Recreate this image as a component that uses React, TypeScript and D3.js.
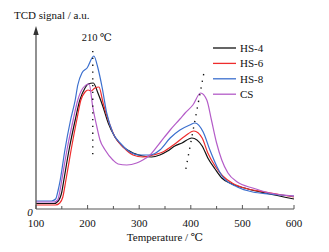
import React from "react";
import * as d3 from "d3";

const W = 329;
const H = 252;

const xTicks = [100, 200, 300, 400, 500, 600];
const xMinorTicks = [150, 250, 350, 450, 550];
const seriesNames = ["HS-4", "HS-6", "HS-8", "CS"];
const seriesColors = ["#111111", "#ee2c2c", "#3b6fce", "#b45cc8"];

const tempHS4 = [100, 135, 143, 150, 154, 164, 176, 185, 195, 201, 211, 220, 230, 240, 253, 269, 288, 307, 324, 340, 355, 369, 383, 402, 422, 433, 447, 460, 480, 511, 544, 600];
const valHS4 = [5.5, 5.5, 8, 17, 29, 59, 89, 109, 121, 125, 126, 116, 102, 86, 72, 62, 56, 53, 52, 54, 58, 63, 66, 71, 63, 51, 40, 31, 25, 20, 16, 10];

const tempHS6 = [100, 138, 146, 152, 158, 168, 179, 187, 195, 201, 207, 214, 222, 230, 240, 253, 269, 288, 307, 327, 346, 369, 389, 406, 422, 433, 447, 462, 480, 511, 544, 600];
const valHS6 = [4, 4, 6, 12, 29, 59, 89, 109, 117, 119, 118, 121, 122, 106, 89, 72, 62, 54, 52, 54, 57, 65, 73, 78, 71, 56, 43, 33, 26, 20, 17, 12];

const tempHS8 = [100, 130, 138, 143, 147, 156, 167, 176, 181, 189, 199, 212, 220, 228, 237, 249, 263, 282, 301, 321, 340, 360, 379, 398, 408, 424, 437, 451, 462, 490, 520, 553, 600];
const valHS8 = [8, 8, 10, 19, 29, 59, 89, 109, 124, 136, 141, 153, 141, 122, 96, 76, 66, 57, 54, 54, 59, 71, 79, 84, 86, 77, 59, 42, 32, 22, 17, 15, 13];

const tempCS = [100, 135, 142, 146, 150, 160, 172, 181, 191, 203, 210, 218, 224, 234, 249, 259, 276, 295, 307, 321, 340, 360, 379, 389, 404, 419, 431, 440, 450, 460, 472, 490, 520, 553, 600];
const valCS = [7, 7, 9, 17, 29, 59, 89, 109, 121, 125, 102, 82, 69, 59, 49, 45, 44, 46, 49, 54, 66, 79, 90, 96, 104, 116, 109, 89, 66, 49, 36, 27, 21, 16, 13];

const seriesTemps = [tempHS4, tempHS6, tempHS8, tempCS];
const seriesVals = [valHS4, valHS6, valHS8, valCS];

const peakLabel = "210 ℃";
const xTitle = "Temperature / ℃";
const yTitle = "TCD signal / a.u.";

const FONT = "Liberation Serif, Times New Roman, DejaVu Serif, serif";
const txt = { fontFamily: FONT };

export default function App() {
  const x = d3.scaleLinear().domain([100, 600]).range([36, 294]);
  const y = d3.scaleLinear().domain([0, 180]).range([209, 29]);
  const line = d3
    .line<[number, number]>()
    .x((d) => x(d[0]))
    .y((d) => y(d[1]))
    .curve(d3.curveMonotoneX);

  const axisColor = "#555";

  return (
    <svg
      width={W}
      height={H}
      style={{ position: "absolute", left: 0, top: 0, background: "#fff" }}
    >
      {/* curves */}
      {seriesNames.map((name, i) => {
        const pts = seriesTemps[i].map((t, j) => [t, seriesVals[i][j]] as [number, number]);
        return (
          <path
            key={name}
            d={line(pts) || ""}
            fill="none"
            stroke={seriesColors[i]}
            strokeWidth={1.2}
          />
        );
      })}

      {/* dotted guide lines */}
      <line
        x1={x(210)}
        x2={x(210)}
        y1={y(158)}
        y2={y(53)}
        stroke="#111"
        strokeWidth={1.4}
        strokeDasharray="1.3 5.5"
      />
      <line
        x1={x(425)}
        x2={x(390)}
        y1={y(135)}
        y2={y(39)}
        stroke="#111"
        strokeWidth={1.4}
        strokeDasharray="1.3 5.5"
      />
      <text x={x(210) + 4} y={41} fontSize={10.5} textAnchor="middle" fill="#111" style={txt}>
        {peakLabel}
      </text>

      {/* x axis */}
      <line x1={x(100)} x2={x(600)} y1={209} y2={209} stroke={axisColor} strokeWidth={1.2} />
      {xTicks.map((t) => (
        <g key={t}>
          <line x1={x(t)} x2={x(t)} y1={209} y2={205} stroke={axisColor} strokeWidth={1} />
          <text x={x(t)} y={227} fontSize={11} textAnchor="middle" fill="#111" style={txt}>
            {t}
          </text>
        </g>
      ))}
      {xMinorTicks.map((t) => (
        <line key={t} x1={x(t)} x2={x(t)} y1={209} y2={206} stroke={axisColor} strokeWidth={1} />
      ))}
      <text x={165} y={241} fontSize={11} textAnchor="middle" fill="#111" style={txt}>
        {xTitle}
      </text>

      {/* y axis */}
      <line x1={36} x2={36} y1={209} y2={33} stroke={axisColor} strokeWidth={1.3} />
      <path d="M36,26 L33.3,35 L38.7,35 Z" fill="#333" />
      <text x={14} y={19} fontSize={11} fill="#111" style={txt}>
        {yTitle}
      </text>
      <text x={30} y={216} fontSize={11} fontStyle="italic" textAnchor="middle" fill="#111" style={txt}>
        0
      </text>

      {/* legend */}
      {seriesNames.map((name, i) => (
        <g key={name} transform={`translate(0, ${48 + i * 15.4})`}>
          <line x1={213} x2={236} y1={0} y2={0} stroke={seriesColors[i]} strokeWidth={1.3} />
          <text x={240} y={4} fontSize={11} fill="#111" style={txt}>
            {name}
          </text>
        </g>
      ))}
    </svg>
  );
}
